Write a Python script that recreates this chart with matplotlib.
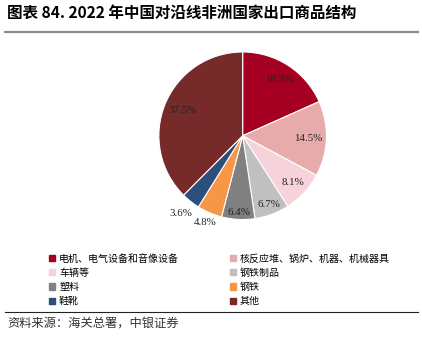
import numpy as np
import matplotlib
matplotlib.use("Agg")
import matplotlib.pyplot as plt
from matplotlib.lines import Line2D

plt.rcParams['font.family'] = ['Liberation Serif', 'Noto Sans CJK SC', 'DejaVu Sans']

categories = ['电机、电气设备和音像设备', '核反应堆、锅炉、机器、机械器具',
              '车辆等', '钢铁制品', '塑料', '钢铁', '鞋靴', '其他']
values = [18.3, 14.5, 8.1, 6.7, 6.4, 4.8, 3.6, 37.5]
labels = ['18.3%', '14.5%', '8.1%', '6.7%', '6.4%', '4.8%', '3.6%', '37.5%']
colors = ['#A50021', '#E8ABAB', '#F6D2DA', '#C0C0C0', '#808080',
          '#F79646', '#2D4F7C', '#762A2A']
label_r = [0.8, 0.78, 0.82, 0.88, 0.92, 1.13, 1.19, 0.78]

fig = plt.figure(figsize=(4.22, 3.47), dpi=100)
ax = fig.add_axes([0.3725, 0.3625, 0.405, 0.4925])
wedges, _ = ax.pie(values, colors=colors, startangle=90, counterclock=False,
                   wedgeprops=dict(edgecolor='white', linewidth=0.8))
for w, lab, r in zip(wedges, labels, label_r):
    ang = np.deg2rad((w.theta1 + w.theta2) / 2)
    ax.text(r * np.cos(ang), r * np.sin(ang), lab, ha='center', va='center',
            fontsize=7.8, color='#222222')
ax.set_xlim(-1.02, 1.02)
ax.set_ylim(-1.02, 1.02)
ax.set_aspect('equal')

# title and rules
fig.text(0.017, 0.962, '图表 84. 2022 年中国对沿线非洲国家出口商品结构',
         fontsize=11.2, fontweight='bold', va='center', ha='left',
         family=['Noto Sans CJK SC'])
fig.add_artist(Line2D([0.012, 0.99], [0.908, 0.908], color='#8c8c8c', lw=1.6))
fig.add_artist(Line2D([0.012, 0.99], [0.101, 0.101], color='#222222', lw=0.8))
fig.text(0.017, 0.068, '资料来源：海关总署，中银证券', fontsize=8.8, style='italic',
         va='center', ha='left', family=['Noto Sans CJK SC'], color='#333333')

handles = [plt.Rectangle((0, 0), 1, 1, color=c) for c in colors]
# legend reads row by row in the reference; matplotlib fills columns first
order = [0, 2, 4, 6, 1, 3, 5, 7]
leg = fig.legend([handles[i] for i in order], [categories[i] for i in order],
                 ncol=2, loc='upper left', bbox_to_anchor=(0.095, 0.295),
                 frameon=False, handlelength=0.55, handleheight=0.55,
                 handletextpad=0.45, columnspacing=5.1, labelspacing=0.42,
                 prop={'family': ['Noto Sans CJK SC'], 'size': 7.2})

fig.savefig('out.png', dpi=100, facecolor='white')
